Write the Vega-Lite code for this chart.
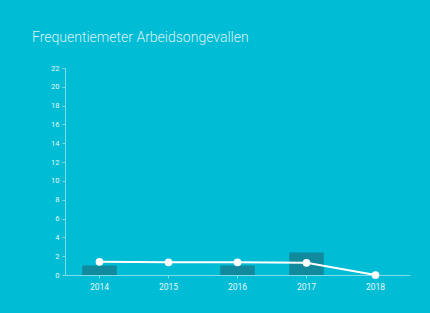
{
  "$schema": "https://vega.github.io/schema/vega-lite/v6.json",
  "width": 345,
  "height": 207,
  "autosize": {"type": "none"},
  "padding": {"left": 65, "top": 68, "right": 20, "bottom": 38},
  "background": "#00bcd4",
  "title": {
    "text": "Frequentiemeter Arbeidsongevallen",
    "anchor": "start",
    "frame": "group",
    "dx": -33,
    "offset": 19,
    "font": "Roboto",
    "fontWeight": 300,
    "fontSize": 14,
    "color": "#d8f3f7"
  },
  "config": {
    "view": {"stroke": null},
    "axis": {
      "labelFont": "Roboto",
      "labelColor": "#e6f8fa",
      "labelFontSize": 7.5,
      "domainColor": "#7fdbe8",
      "tickColor": "#7fdbe8",
      "tickSize": 3,
      "grid": false,
      "title": null
    }
  },
  "data": {
    "values": [
      {"year": "2014", "bar": 1.0, "line": 1.4},
      {"year": "2015", "bar": 0, "line": 1.35},
      {"year": "2016", "bar": 1.0, "line": 1.35},
      {"year": "2017", "bar": 2.4, "line": 1.3},
      {"year": "2018", "bar": 0, "line": 0}
    ]
  },
  "encoding": {
    "x": {
      "field": "year",
      "type": "nominal",
      "scale": {"type": "band", "paddingInner": 0.5, "paddingOuter": 0.25},
      "axis": {"labelAngle": 0, "labelPadding": 4, "labelFontSize": 8.5}
    }
  },
  "layer": [
    {
      "mark": {"type": "bar", "color": "#128a9e"},
      "encoding": {
        "y": {
          "field": "bar",
          "type": "quantitative",
          "scale": {"domain": [0, 22]},
          "axis": {"values": [0, 2, 4, 6, 8, 10, 12, 14, 16, 18, 20, 22], "labelPadding": 3, "labelOverlap": false}
        }
      }
    },
    {
      "mark": {"type": "line", "color": "#ffffff", "strokeWidth": 2},
      "encoding": {
        "y": {
          "field": "line",
          "type": "quantitative",
          "scale": {"domain": [0, 22]},
          "axis": {"values": [0, 2, 4, 6, 8, 10, 12, 14, 16, 18, 20, 22], "labelPadding": 3, "labelOverlap": false}
        }
      }
    },
    {
      "mark": {"type": "point", "filled": true, "color": "#ffffff", "opacity": 1, "size": 60},
      "encoding": {
        "y": {
          "field": "line",
          "type": "quantitative",
          "scale": {"domain": [0, 22]},
          "axis": {"values": [0, 2, 4, 6, 8, 10, 12, 14, 16, 18, 20, 22], "labelPadding": 3, "labelOverlap": false}
        }
      }
    }
  ]
}
